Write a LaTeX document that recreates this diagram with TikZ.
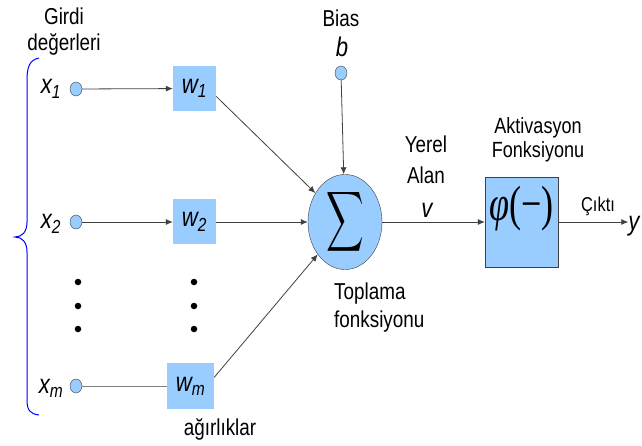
\documentclass[tikz,border=0pt]{standalone}
\usepackage{fontspec}
\setmainfont{Liberation Sans}[FakeStretch=0.82]
\newfontfamily\timesfont{Liberation Serif}
\usetikzlibrary{arrows.meta,shapes.geometric}
\definecolor{wblue}{RGB}{153,204,255}
\definecolor{lgray}{RGB}{64,64,64}
\begin{document}
\begin{tikzpicture}[x=1pt,y=-1pt,
    lbl/.style={font=\fontsize{23}{26}\selectfont, align=center, inner sep=0pt},
    var/.style={font=\fontsize{27}{30}\selectfont\itshape, inner sep=0pt},
    inp/.style={ellipse, draw=lgray, fill=wblue, minimum width=12pt, minimum height=14pt, inner sep=0pt},
    wbox/.style={rectangle, fill=wblue, minimum width=43pt, minimum height=45pt, inner sep=0pt, font=\fontsize{27}{30}\selectfont\itshape},
    dot/.style={circle, fill=black, minimum size=6.5pt, inner sep=0pt},
    arr/.style={draw=lgray, line width=0.8pt, -{Latex[length=7pt,width=6pt]}},
    ln/.style={draw=gray, line width=0.8pt}]
    \useasboundingbox (0,0) rectangle (642,446);

    \node[lbl] (girdi) at (64,32) {Girdi\\değerleri};
    \draw[blue, line width=1pt] (39,58) .. controls (30,60) and (27,66) .. (27,80) -- (27,222)
      .. controls (27,232) and (22,237) .. (15,237) .. controls (22,237) and (27,242) .. (27,252)
      -- (27,400) .. controls (27,410) and (30,414) .. (39,415);

    \node[var] (lx1) at (51,89) {x\textsubscript{1}};
    \node[var] (lx2) at (51,224) {x\textsubscript{2}};
    \node[var] (lxm) at (51,388) {x\textsubscript{m}};
    \node[inp] (x1) at (76,89) {};
    \node[inp] (x2) at (76,222) {};
    \node[inp] (xm) at (76,386) {};
    \node[dot] (d1) at (78,282) {};
    \node[dot] (d2) at (78,306) {};
    \node[dot] (d3) at (78,329) {};

    \node[wbox] (w1) at (194.5,88.5) {w\textsubscript{1}};
    \node[wbox] (w2) at (194.5,222) {w\textsubscript{2}};
    \node[wbox, minimum width=47pt, minimum height=46pt] (wm) at (190.5,386) {w\textsubscript{m}};
    \node[dot] (e1) at (194,282) {};
    \node[dot] (e2) at (194,306) {};
    \node[dot] (e3) at (194,329) {};
    \node[lbl] (agir) at (220,429) {ağırlıklar};

    \node[lbl] (bias) at (341,18) {Bias};
    \node[var] (lb) at (342,47) {b};
    \node[inp] (b) at (341,73) {};

    \node[ellipse, draw=lgray, fill=wblue, minimum width=74pt, minimum height=90pt, inner sep=0pt] (sum) at (345,222)
      {\scalebox{2.6}[4.2]{$\displaystyle\sum$}};
    \node[lbl, align=left, anchor=west, font=\fontsize{23}{28}\selectfont] (topl) at (334,308) {Toplama\\fonksiyonu};

    \node[lbl, font=\fontsize{23}{31}\selectfont] (yerel) at (426,160) {Yerel\\Alan};
    \node[var] (v) at (427,210) {v};

    \node[rectangle, draw=lgray, fill=wblue, minimum width=73pt, minimum height=90pt, inner sep=0pt] (phi) at (521.5,222) {};
    \node[inner sep=0pt, font=\timesfont\fontsize{38}{40}\selectfont] (phitxt) at (521.5,209) {\scalebox{0.95}[1.3]{{\itshape φ}(−)}};
    \node[lbl, font=\fontsize{22}{24}\selectfont] (aktiv) at (538,140) {Aktivasyon\\Fonksiyonu};

    \node[lbl, font=\fontsize{20}{22}\selectfont] (cikti) at (598,206) {Çıktı};
    \node[var] (y) at (634,226) {y};

    \draw[arr] (x1) -- (w1);
    \draw[arr] (x2) -- (w2);
    \draw[ln] (xm) -- (wm);
    \draw[arr] (w1.-20) -- (sum);
    \draw[arr] (w2) -- (sum);
    \draw[arr] (wm.20) -- (sum);
    \draw[arr] (b) -- (sum);
    \draw[arr] (sum) -- (phi);
    \draw[arr] (phi.east) -- (phi.east -| y.west);
\end{tikzpicture}
\end{document}
